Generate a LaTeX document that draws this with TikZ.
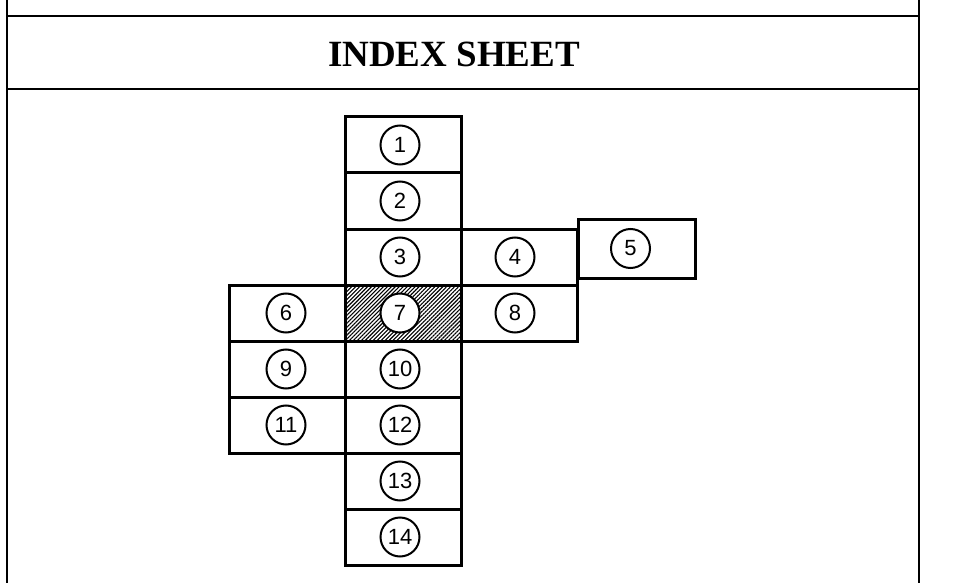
\documentclass[tikz,border=0pt]{standalone}
\usepackage{fontspec}
\setmainfont{Liberation Serif}
\newfontfamily\numfont{Liberation Sans}
\usetikzlibrary{patterns.meta}
\newcommand{\sheetwd}{116pt}
\newcommand{\sheetht}{56pt}
\tikzset{sheet/.style={rectangle, draw, line width=3pt, inner sep=0pt, minimum width=\sheetwd, minimum height=\sheetht}}
\tikzset{sheetno/.style={circle, draw, fill=white, line width=2pt, inner sep=0pt, minimum size=39pt, font=\numfont\fontsize{22}{22}\selectfont}}

\begin{document}
\begin{tikzpicture}[x=1pt, y=-1pt]

\useasboundingbox (0,0) rectangle (972,583);

% frame and title band
\coordinate (tl) at (7,0);
\coordinate (tr) at (919,0);
\coordinate (bl) at (7,583);
\coordinate (br) at (919,583);
\coordinate (hl1) at (7,16); \coordinate (hr1) at (919,16);
\coordinate (hl2) at (7,89); \coordinate (hr2) at (919,89);
\draw[line width=2pt] (tl) -- (bl);
\draw[line width=2.4pt] (tr) -- (br);
\draw[line width=2.2pt] (hl1) -- (hr1);
\draw[line width=2.2pt] (hl2) -- (hr2);
\node[font=\bfseries\fontsize{37}{37}\selectfont] (title) at (454,54) {INDEX SHEET};

% sheets
\node[sheet] (1) at (403,145) {};
\node[sheet] (2) at (403,201) {};
\node[sheet] (3) at (403,257) {};
\node[sheet] (4) at (519,257) {};
\node[sheet, minimum width=117pt, minimum height=59pt] (5) at (636.5,248.5) {};
\node[sheet] (6) at (287,313) {};
\node[sheet, pattern={Lines[angle=45, distance=2.8pt, line width=1.1pt]}] (7) at (403,313) {};
\node[sheet] (8) at (519,313) {};
\node[sheet] (9) at (287,369) {};
\node[sheet] (10) at (403,369) {};
\node[sheet] (11) at (287,425) {};
\node[sheet] (12) at (403,425) {};
\node[sheet] (13) at (403,481) {};
\node[sheet] (14) at (403,537) {};

% sheet numbers
\node[sheetno] (n1) at ([xshift=-3pt]1.center) {1};
\node[sheetno] (n2) at ([xshift=-3pt]2.center) {2};
\node[sheetno] (n3) at ([xshift=-3pt]3.center) {3};
\node[sheetno] (n4) at ([xshift=-4pt]4.center) {4};
\node[sheetno] (n5) at ([xshift=-6pt]5.center) {5};
\node[sheetno] (n6) at ([xshift=-1pt]6.center) {6};
\node[sheetno] (n7) at ([xshift=-3pt]7.center) {7};
\node[sheetno] (n8) at ([xshift=-4pt]8.center) {8};
\node[sheetno] (n9) at ([xshift=-1pt]9.center) {9};
\node[sheetno] (n10) at ([xshift=-3pt]10.center) {10};
\node[sheetno] (n11) at ([xshift=-1pt]11.center) {11};
\node[sheetno] (n12) at ([xshift=-3pt]12.center) {12};
\node[sheetno] (n13) at ([xshift=-3pt]13.center) {13};
\node[sheetno] (n14) at ([xshift=-3pt]14.center) {14};

\end{tikzpicture}
\end{document}
